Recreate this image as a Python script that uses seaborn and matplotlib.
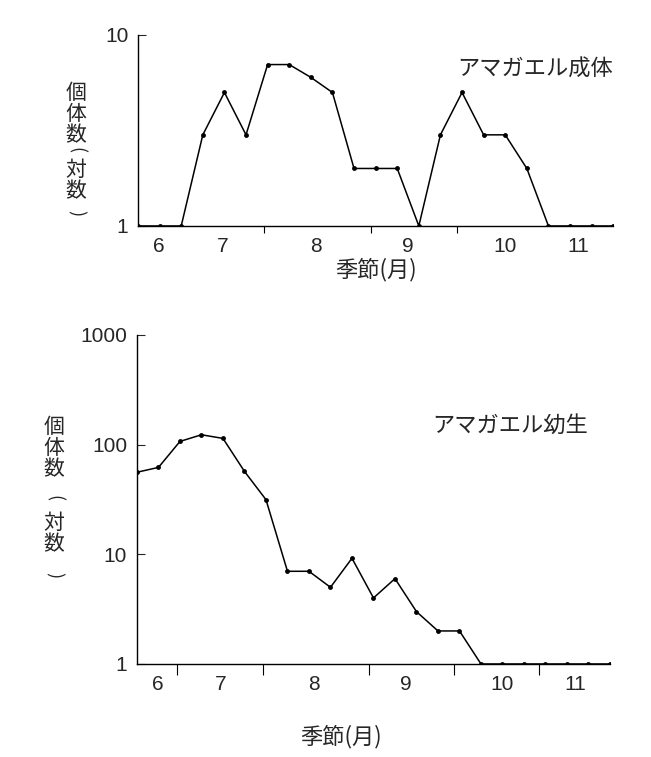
import numpy as np
import pandas as pd
import seaborn as sns
import matplotlib.pyplot as plt

# survey order (roughly every 5 days, late June -> mid November)
idx = list(range(23))
adult = [1, 1, 1, 3, 5, 3, 7, 7, 6, 5, 2, 2, 2, 1, 3, 5, 3, 3, 2, 1, 1, 1, 1]
juvenile = [56, 62, 107, 123, 114, 57, 31.5, 7, 7, 5, 9.2, 4, 6, 3, 2, 2,
            1, 1, 1, 1, 1, 1, 1]
month_labels = ["6", "7", "8", "9", "10", "11"]
month_pos = [0.95, 3.9, 8.25, 12.5, 17.0, 20.4]
bounds_top = [5.84, 10.8, 14.75]
bounds_bot = [1.87, 5.84, 10.8, 14.75, 18.7]

sns.set_style("ticks")
plt.rcParams['font.family'] = ['Liberation Sans', 'Noto Sans CJK JP']
jp = ['Noto Sans CJK JP']

df = pd.DataFrame({"idx": idx, "adult": adult, "juvenile": juvenile})

fig = plt.figure(figsize=(6.51, 7.57), dpi=100)
ax1 = fig.add_axes([0.212, 0.7015, 0.73, 0.2523])
ax2 = fig.add_axes([0.2104, 0.1229, 0.7266, 0.4346])

def style(ax, bounds, tlen):
    ax.set_yscale("log")
    ax.set_xlim(0, 22)
    ax.set_xticks(month_pos)
    ax.set_xticklabels(month_labels, fontsize=15)
    ax.set_xticks(bounds, minor=True)
    ax.tick_params(axis="x", which="major", length=0, pad=8)
    ax.tick_params(axis="x", which="minor", length=tlen, width=0.8,
                   direction="out", color="black", bottom=True)
    ax.yaxis.set_minor_locator(plt.NullLocator())
    ax.tick_params(axis="y", which="major", direction="in", length=6,
                   width=0.8, pad=7, labelsize=15)
    for s in ["top", "right"]:
        ax.spines[s].set_visible(False)
    for s in ["left", "bottom"]:
        ax.spines[s].set_linewidth(1.0)
        ax.spines[s].set_color("black")

def vlabel(ax, x, y_top, y_paren1, y_bot, y_paren2, size):
    kw = dict(transform=ax.transAxes, family=jp, ha="center", va="center")
    ax.text(x, y_top, "個\n体\n数", fontsize=size, linespacing=0.95, **kw)
    ax.text(x, y_bot, "対\n数", fontsize=size, linespacing=0.95, **kw)
    ax.text(x, y_paren1, "(", fontsize=size - 2, rotation=-90, **kw)
    ax.text(x, y_paren2, ")", fontsize=size - 2, rotation=-90, **kw)

# adults
sns.lineplot(data=df, x="idx", y="adult", ax=ax1, color="black", lw=1.1,
             marker="o", markersize=3.5, markeredgewidth=0)
style(ax1, bounds_top, 5)
ax1.set_ylim(1, 10)
ax1.set_yticks([1, 10])
ax1.set_yticklabels(["1", "10"])
ax1.set_xlabel("季節(月)", fontsize=16, family=jp, labelpad=1)
ax1.set_ylabel("")
vlabel(ax1, -0.13, 0.586, 0.395, 0.236, 0.07, 15)
ax1.text(1.0, 0.822, "アマガエル成体", transform=ax1.transAxes, fontsize=16,
         family=jp, ha="right", va="center")

# juveniles
sns.lineplot(data=df, x="idx", y="juvenile", ax=ax2, color="black", lw=1.1,
             marker="o", markersize=3.5, markeredgewidth=0)
style(ax2, bounds_bot, 8)
ax2.set_ylim(1, 1000)
ax2.set_yticks([1, 10, 100, 1000])
ax2.set_yticklabels(["1", "10", "100", "1000"])
ax2.set_xlabel("季節(月)", fontsize=16, family=jp)
ax2.xaxis.set_label_coords(0.431, -0.185)
ax2.set_ylabel("")
vlabel(ax2, -0.175, 0.657, 0.505, 0.395, 0.27, 15)
ax2.text(0.624, 0.726, "アマガエル幼生", transform=ax2.transAxes, fontsize=16,
         family=jp, ha="left", va="center")

fig.savefig("out.png", dpi=100)
